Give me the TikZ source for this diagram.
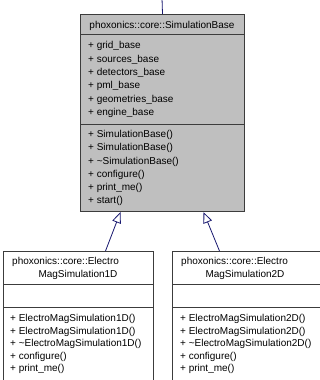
\documentclass[tikz,border=0pt]{standalone}
\usepackage{fontspec}
\setmainfont{Liberation Sans}
\usetikzlibrary{arrows.meta,calc}
\definecolor{edgeblue}{HTML}{191970}
\definecolor{boxline}{HTML}{3C3C3C}
\definecolor{basefill}{HTML}{BFBFBF}
\begin{document}
\begin{tikzpicture}[x=1pt,y=-1pt,
  classbox/.style={draw=boxline, line width=1pt, rectangle, inner sep=0pt, anchor=north west},
  sepline/.style={draw=boxline, line width=1pt},
  label/.style={inner sep=0pt, font=\fontsize{10}{12}\selectfont},
  members/.style={inner sep=0pt, align=left, anchor=north west},
  inherit/.style={draw=edgeblue, line width=0.8pt, -{Triangle[open, length=11pt, width=9pt]}}]
\useasboundingbox (0,0) rectangle (320,380);
\clip (0,0) rectangle (320,380);

% base class
\node[classbox, fill=basefill, minimum width=164pt, minimum height=197pt] (base) at (80,14) {};
\draw[sepline] ($(base.north west)+(0,20)$) -- ($(base.north east)+(0,20)$);
\draw[sepline] ($(base.north west)+(0,110)$) -- ($(base.north east)+(0,110)$);
\node[label, anchor=base] (base-title) at (162,28) {phoxonics::core::SimulationBase};
\node[members, font=\fontsize{10}{13.4}\selectfont] (base-attrs) at (88,39.5)
  {\rule{0pt}{9pt}+ grid\_base\\+ sources\_base\\+ detectors\_base\\+ pml\_base\\+ geometries\_base\\+ engine\_base};
\node[members, font=\fontsize{10}{13.2}\selectfont] (base-ops) at (88,128.5)
  {\rule{0pt}{9pt}+ SimulationBase()\\+ SimulationBase()\\+ \char`~SimulationBase()\\+ configure()\\+ print\_me()\\+ start()};

% 1D subclass
\node[classbox, fill=white, minimum width=150pt, minimum height=150pt] (sub1) at (3,251) {};
\draw[sepline] ($(sub1.north west)+(0,33)$) -- ($(sub1.north east)+(0,33)$);
\draw[sepline] ($(sub1.north west)+(0,56)$) -- ($(sub1.north east)+(0,56)$);
\node[label, anchor=base west] (sub1-title-a) at (12,264) {phoxonics::core::Electro};
\node[label, anchor=base] (sub1-title-b) at (78,277) {MagSimulation1D};
\node[members, font=\fontsize{10}{12.5}\selectfont] (sub1-ops) at (10,312.5)
  {\rule{0pt}{9pt}+ ElectroMagSimulation1D()\\+ ElectroMagSimulation1D()\\+ \char`~ElectroMagSimulation1D()\\+ configure()\\+ print\_me()};

% 2D subclass
\node[classbox, fill=white, minimum width=149pt, minimum height=150pt] (sub2) at (172,251) {};
\draw[sepline] ($(sub2.north west)+(0,33)$) -- ($(sub2.north east)+(0,33)$);
\draw[sepline] ($(sub2.north west)+(0,56)$) -- ($(sub2.north east)+(0,56)$);
\node[label, anchor=base west] (sub2-title-a) at (181,264) {phoxonics::core::Electro};
\node[label, anchor=base] (sub2-title-b) at (245,277) {MagSimulation2D};
\node[members, font=\fontsize{10}{12.5}\selectfont] (sub2-ops) at (180,312.5)
  {\rule{0pt}{9pt}+ ElectroMagSimulation2D()\\+ ElectroMagSimulation2D()\\+ \char`~ElectroMagSimulation2D()\\+ configure()\\+ print\_me()};

% inheritance edges
\coordinate (parent-in) at (162,-2);
\draw[draw=edgeblue, line width=0.8pt] (parent-in) -- (base.north);
\draw[inherit] ([xshift=27pt]sub1.north) -- ([xshift=-42pt]base.south);
\draw[inherit] ([xshift=-27.5pt]sub2.north) -- ([xshift=41pt]base.south);
\end{tikzpicture}
\end{document}
